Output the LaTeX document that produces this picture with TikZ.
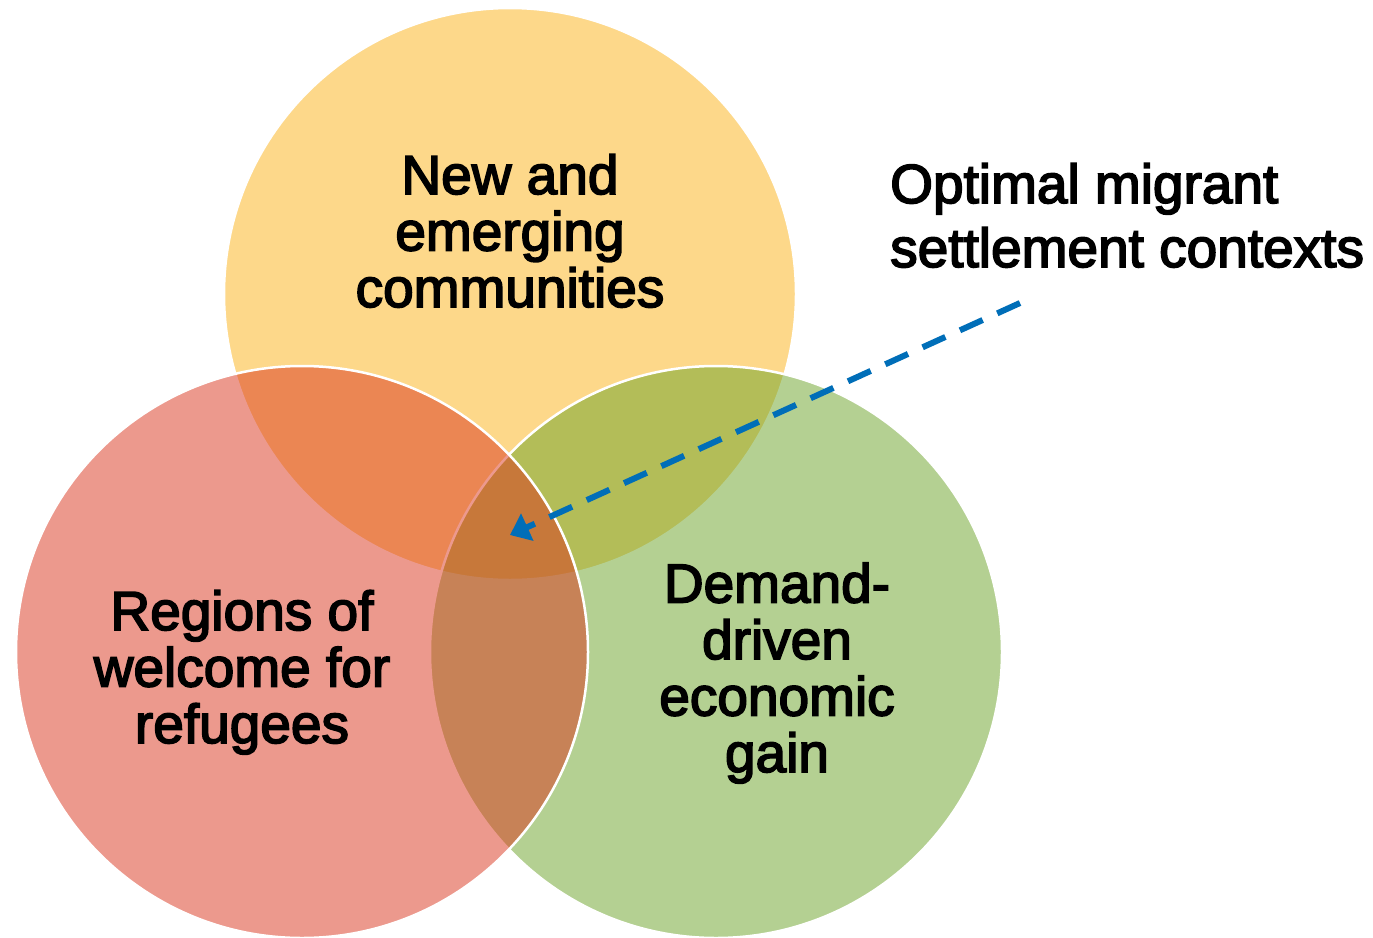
\documentclass[tikz,border=0pt]{standalone}
\usepackage{fontspec}
\setmainfont{Liberation Sans}[FakeBold=3]
\usetikzlibrary{arrows.meta}
\definecolor{cyellow}{RGB}{253,216,138}
\definecolor{cgreen}{RGB}{107,163,39}
\definecolor{cred}{RGB}{219,53,29}
\definecolor{cblue}{RGB}{0,110,184}
\tikzset{
  venn/.style={circle, minimum size=572pt, inner sep=0pt, draw=white, line width=2.5pt},
  lbl/.style={align=center, text=black, inner sep=0pt, anchor=base,
    font=\fontsize{55}{56.5}\selectfont},
  pointer/.style={draw=cblue, line width=6pt, dash pattern=on 25pt off 16pt,
    -{Triangle[length=19pt,width=29pt]}}
}
\begin{document}
\begin{tikzpicture}[x=1pt,y=-1pt]
\fill[white] (0,0) rectangle (1373,937);
\useasboundingbox (0,0) rectangle (1373,937);
\begin{scope}
\clip (0,0) rectangle (1373,937);
\node[venn, fill=cyellow] (top) at (510,294) {};
\node[venn, fill=cgreen, fill opacity=0.5] (right) at (716,652) {};
\node[venn, fill=cred, fill opacity=0.5] (left) at (302,652) {};
\end{scope}
\node[lbl] (ttop) at (510,307) {New and\\emerging\\communities};
\node[lbl] (tleft) at (242,743) {Regions of\\welcome for\\refugees};
\node[lbl] (tright) at (777,772) {Demand-\\driven\\economic\\gain};
\node[lbl, align=left, anchor=base west,
  font=\fontsize{55}{64}\selectfont] (topt) at (890,267) {Optimal migrant\\settlement contexts};
\coordinate (as) at (1020,303);
\coordinate (ae) at (510,535);
\draw[pointer] (as) -- (ae);
\end{tikzpicture}
\end{document}
